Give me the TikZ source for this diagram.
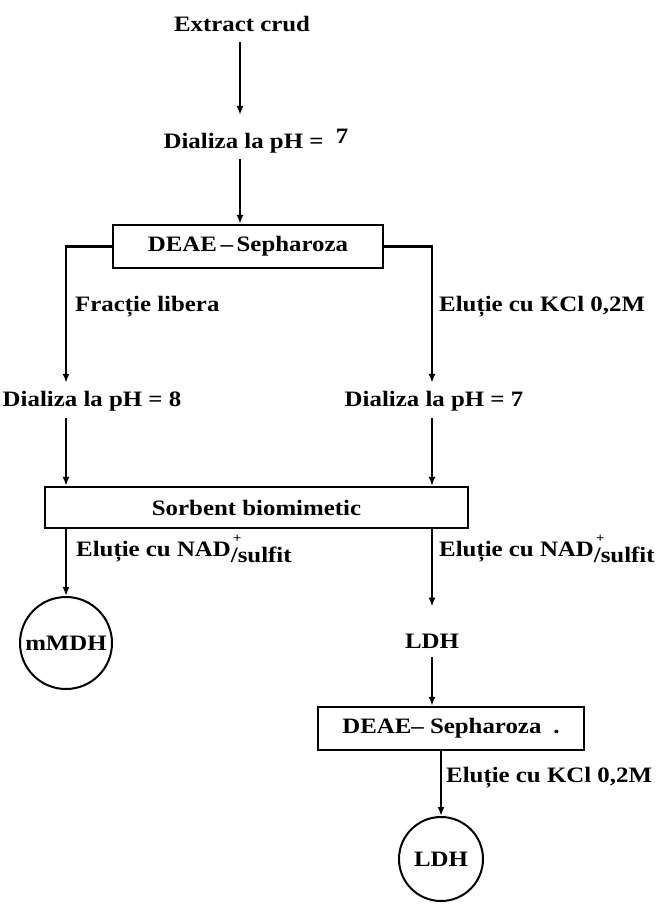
\documentclass[tikz,border=0pt]{standalone}
\usepackage{fontspec}
\setmainfont[FakeStretch=1.13]{Liberation Serif}
\usetikzlibrary{arrows.meta,calc}
\newcommand{\nadsulf}{NAD\rlap{\raisebox{1.4ex}{\fontsize{13pt}{13pt}\selectfont\,+}}\raisebox{-0.55ex}{/sulfit}}
\begin{document}
\begin{tikzpicture}[x=1pt,y=-1pt,
  every node/.style={font=\fontsize{22pt}{24pt}\selectfont\bfseries},
  txt/.style={inner sep=0pt},
  procbox/.style={draw,line width=2.3pt,inner sep=0pt},
  endcirc/.style={draw,circle,line width=2pt,inner sep=0pt},
  arr/.style={line width=2.3pt,-{Latex[length=9pt,width=7pt]}}]
\useasboundingbox (0,0) rectangle (670,904);
\fill[white] (0,0) rectangle (670,904);
\coordinate (lx) at (66,0);
\coordinate (rx) at (432,0);
\coordinate (cx) at (240,0);
% nodes
\node[txt] (ext) at (242,24) {Extract crud};
\node[txt] (d7a) at (256,141) {Dializa la pH =\ \ \raisebox{0.45ex}{7}};
\node[procbox,minimum width=270,minimum height=43] (deae1) at (248,246.5) {DEAE\,–\,Sepharoza};
\node[txt,anchor=west] (fl) at (75,307) {Fracție libera};
\node[txt,anchor=west] (kcl1) at (439,307) {Eluție cu KCl 0,2M};
\node[txt] (d8) at (92,401) {Dializa la pH = 8};
\node[txt] (d7b) at (434,401) {Dializa la pH = 7};
\node[procbox,minimum width=423,minimum height=41] (sorb) at (256.5,507.5) {Sorbent biomimetic};
\node[txt,anchor=west] (nad1) at (76,549) {Eluție cu \nadsulf};
\node[txt,anchor=west] (nad2) at (439,549) {Eluție cu \nadsulf};
\node[endcirc,minimum size=92] (mmdh) at (66,643) {mMDH};
\node[txt] (ldh1) at (432,641) {LDH};
\node[procbox,minimum width=266,minimum height=43] (deae2) at (451,728.5) {DEAE– Sepharoza\hspace{12pt}.};
\node[txt,anchor=west] (kcl2) at (446,778) {Eluție cu KCl 0,2M};
\node[endcirc,minimum size=84] (ldh2) at (441,859) {LDH};
% connectors
\draw[arr,shorten <=10pt,shorten >=14pt] (cx |- ext.south) -- (cx |- d7a.north);
\draw[arr,shorten <=6pt] (cx |- d7a.south) -- (cx |- deae1.north);
\draw[arr,shorten >=8pt] (deae1.west) -| (lx |- d8.north);
\draw[arr,shorten >=8pt] (deae1.east) -| (rx |- d7b.north);
\draw[arr,shorten <=7pt] (lx |- d8.south) -- (lx |- sorb.north);
\draw[arr,shorten <=7pt] (rx |- d7b.south) -- (rx |- sorb.north);
\draw[arr] (lx |- sorb.south) -- (mmdh.north);
\draw[arr,shorten >=27pt] (rx |- sorb.south) -- (ldh1.north);
\draw[arr,shorten <=9pt] (rx |- ldh1.south) -- (rx |- deae2.north);
\draw[arr] (ldh2 |- deae2.south) -- (ldh2.north);
\end{tikzpicture}
\end{document}
